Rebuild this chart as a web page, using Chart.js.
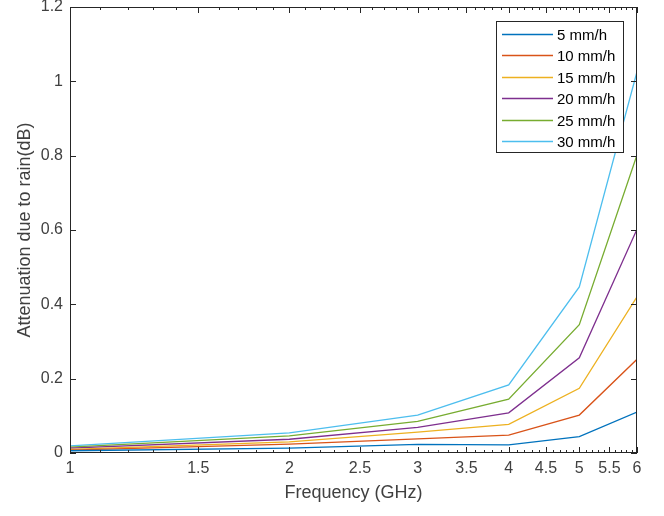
<!DOCTYPE html>
<html>
<head>
<meta charset="utf-8">
<script src="https://cdn.jsdelivr.net/npm/chart.js@4"></script>
<style>
  html, body { margin: 0; padding: 0; background: #fff; }
  #wrap { width: 664px; height: 516px; }
</style>
</head>
<body>
<div id="wrap"><canvas id="chart-rain"></canvas></div>
<script>
const freqs = [1, 2, 3, 4, 5, 6];
const rain5 = [0.006, 0.013, 0.023, 0.022, 0.044, 0.110];
const rain10 = [0.008, 0.024, 0.038, 0.048, 0.102, 0.252];
const rain15 = [0.010, 0.030, 0.056, 0.077, 0.174, 0.420];
const rain20 = [0.013, 0.037, 0.069, 0.108, 0.256, 0.602];
const rain25 = [0.016, 0.046, 0.085, 0.145, 0.345, 0.802];
const rain30 = [0.019, 0.054, 0.102, 0.183, 0.447, 1.026];
const seriesLabels = ['5 mm/h', '10 mm/h', '15 mm/h', '20 mm/h', '25 mm/h', '30 mm/h'];
const xTicks = [1, 1.5, 2, 2.5, 3, 3.5, 4, 4.5, 5, 5.5, 6];
const yTicks = [0, 0.2, 0.4, 0.6, 0.8, 1, 1.2];

const colors = ['#0072BD', '#D95319', '#EDB120', '#7E2F8E', '#77AC30', '#4DBEEE'];
const allSeries = [rain5, rain10, rain15, rain20, rain25, rain30];
const axisColor = '#262626';
const textColor = '#404040';
const fontFam = '"Liberation Sans", Arial, sans-serif';

// minor ticks on the log axis, every 0.1
const minorX = [];
for (let i = 11; i < 60; i++) { if (i % 5 !== 0) minorX.push(i / 10); }

const boxPlugin = {
  id: 'boxTicks',
  afterDraw(chart) {
    const ctx = chart.ctx;
    const a = chart.chartArea;
    const xs = chart.scales.x, ys = chart.scales.y;
    ctx.save();
    ctx.strokeStyle = axisColor;
    ctx.lineWidth = 1;
    ctx.strokeRect(a.left + 0.5, a.top + 0.5, a.right - a.left - 1, a.bottom - a.top - 1);
    ctx.beginPath();
    xTicks.forEach(v => {
      const px = Math.round(xs.getPixelForValue(v)) + 0.5;
      ctx.moveTo(px, a.bottom); ctx.lineTo(px, a.bottom - 6);
      ctx.moveTo(px, a.top); ctx.lineTo(px, a.top + 6);
    });
    minorX.forEach(v => {
      const px = Math.round(xs.getPixelForValue(v)) + 0.5;
      ctx.moveTo(px, a.bottom); ctx.lineTo(px, a.bottom - 3);
      ctx.moveTo(px, a.top); ctx.lineTo(px, a.top + 3);
    });
    yTicks.forEach(v => {
      const py = Math.round(ys.getPixelForValue(v)) + 0.5;
      ctx.moveTo(a.left, py); ctx.lineTo(a.left + 6, py);
      ctx.moveTo(a.right, py); ctx.lineTo(a.right - 6, py);
    });
    ctx.stroke();

    // legend box
    const lx = 496, ly = 21, lw = 127, lh = 131;
    ctx.fillStyle = '#fff';
    ctx.fillRect(lx, ly, lw, lh);
    ctx.strokeRect(lx + 0.5, ly + 0.5, lw, lh);
    ctx.font = '15px ' + fontFam;
    ctx.textBaseline = 'middle';
    chart.data.datasets.forEach((ds, i) => {
      const yy = Math.round(ly + 12.5 + i * 21.5) + 0.5;
      ctx.strokeStyle = ds.borderColor;
      ctx.lineWidth = 1.3;
      ctx.beginPath();
      ctx.moveTo(lx + 6, yy); ctx.lineTo(lx + 57, yy);
      ctx.stroke();
      ctx.fillStyle = '#000';
      ctx.fillText(ds.label, lx + 61, yy + 1);
    });
    ctx.restore();
  }
};

new Chart(document.getElementById('chart-rain'), {
  type: 'line',
  data: {
    datasets: allSeries.map((s, i) => ({
      label: seriesLabels[i],
      data: s.map((y, j) => ({ x: freqs[j], y: y })),
      borderColor: colors[i],
      backgroundColor: colors[i],
      borderWidth: 1.3,
      pointRadius: 0,
      fill: false,
      tension: 0
    }))
  },
  options: {
    responsive: true,
    maintainAspectRatio: false,
    animation: false,
    layout: { padding: { top: 7, right: 27, left: 0, bottom: 0 } },
    plugins: {
      legend: { display: false },
      tooltip: { enabled: false }
    },
    scales: {
      x: {
        type: 'logarithmic',
        min: 1,
        max: 6,
        grid: { display: false, drawTicks: false, tickLength: 0 },
        border: { display: false },
        afterBuildTicks(scale) { scale.ticks = xTicks.map(v => ({ value: v })); },
        afterFit(scale) {
          scale.height = 63;
          scale.paddingLeft = 0; scale.paddingRight = 0;
        },
        ticks: {
          autoSkip: false,
          maxRotation: 0,
          color: textColor,
          padding: 6,
          font: { family: fontFam, size: 16 },
          callback: (v) => String(v)
        },
        title: {
          display: true,
          text: 'Frequency (GHz)',
          color: textColor,
          font: { family: fontFam, size: 18 },
          padding: { top: 0, bottom: 12 }
        }
      },
      y: {
        min: 0,
        max: 1.2,
        grid: { display: false, drawTicks: false, tickLength: 0 },
        border: { display: false },
        afterBuildTicks(scale) { scale.ticks = yTicks.map(v => ({ value: v })); },
        afterFit(scale) {
          scale.width = 70;
          scale.paddingTop = 0; scale.paddingBottom = 0;
        },
        ticks: {
          color: textColor,
          padding: 7,
          font: { family: fontFam, size: 16 },
          callback: (v) => String(+v.toFixed(1))
        },
        title: {
          display: true,
          text: 'Attenuation due to rain(dB)',
          color: textColor,
          font: { family: fontFam, size: 18 },
          padding: { top: 14, bottom: 0 }
        }
      }
    }
  },
  plugins: [boxPlugin]
});
</script>
</body>
</html>
